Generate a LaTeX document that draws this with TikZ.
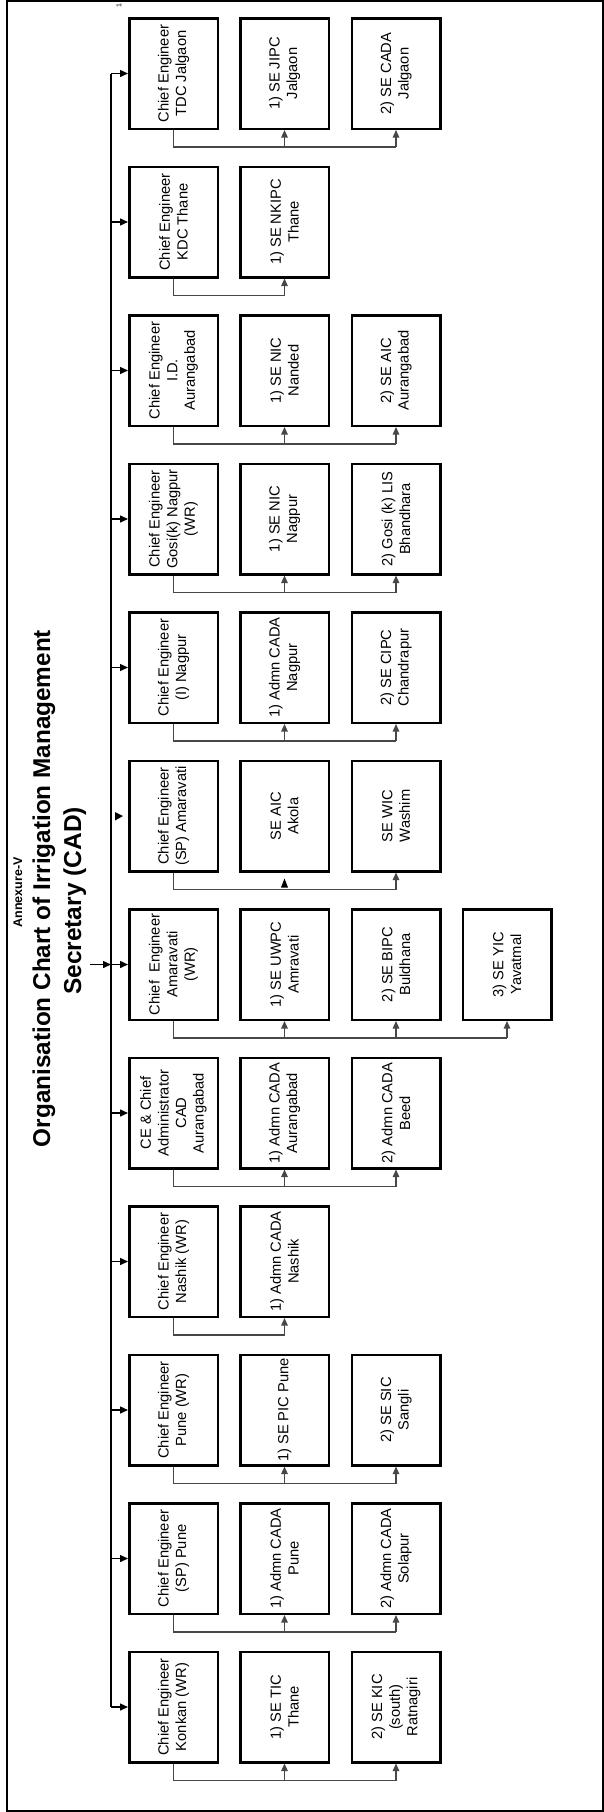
\documentclass[tikz,border=0pt]{standalone}
\usepackage{fontspec}
\setmainfont{Liberation Sans}
\usetikzlibrary{arrows.meta}
\begin{document}
\begin{tikzpicture}[x=1pt,y=-1pt,
  box/.style={draw, line width=2.5pt, rotate=90, minimum width=110.5pt, minimum height=88.5pt,
    inner sep=1pt, align=center, font=\fontsize{14.7}{17.6}\selectfont},
  conn/.style={draw=black!72, line width=1.3pt},
  ctip/.style={conn, -{Triangle[length=7.5pt,width=6.5pt]}},
  sarr/.style={line width=1.4pt, -{Triangle[length=8pt,width=7pt]}},
  ttl/.style={rotate=90, anchor=base, inner sep=0pt}]
\useasboundingbox (0,0) rectangle (604,1812);
\draw[line width=1.6pt] (7,1) rectangle (603.2,1811);
\node[rotate=90, font=\fontsize{7}{8}\selectfont, inner sep=0pt] (pgno) at (119,6) {1};
% title
\node[ttl, font=\bfseries\fontsize{12.5}{14}\selectfont] (annex) at (22,892.5) {Annexure-V};
\node[ttl, font=\bfseries\fontsize{24.3}{28}\selectfont] (title1) at (50,888.5) {Organisation Chart of Irrigation Management};
\node[ttl, font=\bfseries\fontsize{24.5}{28}\selectfont] (title2) at (81,901) {Secretary (CAD)};
\coordinate (spine) at (111,0);
% row 0
\node[box] (c0) at (173.5,73.5) {Chief Engineer\\TDC Jalgaon};
\node[box] (a0) at (284.5,73.5) {1) SE JIPC\\Jalgaon};
\node[box] (b0) at (396,73.5) {2) SE CADA\\Jalgaon};
% row 1
\node[box] (c1) at (173.5,222) {Chief Engineer\\KDC Thane};
\node[box] (a1) at (284.5,222) {1) SE NKIPC\\Thane};
% row 2
\node[box] (c2) at (173.5,370.5) {Chief Engineer\\I.D.\\Aurangabad};
\node[box] (a2) at (284.5,370.5) {1) SE NIC\\Nanded};
\node[box] (b2) at (396,370.5) {2) SE AIC\\Aurangabad};
% row 3
\node[box] (c3) at (173.5,519) {Chief Engineer\\Gosi(k) Nagpur\\(WR)};
\node[box] (a3) at (284.5,519) {1) SE NIC\\Nagpur};
\node[box] (b3) at (396,519) {2) Gosi (k) LIS\\Bhandhara};
% row 4
\node[box] (c4) at (173.5,667.5) {Chief Engineer\\(I) Nagpur};
\node[box] (a4) at (284.5,667.5) {1) Admn CADA\\Nagpur};
\node[box] (b4) at (396,667.5) {2) SE CIPC\\Chandrapur};
% row 5
\node[box] (c5) at (173.5,816) {Chief Engineer\\(SP) Amaravati};
\node[box] (a5) at (284.5,816) {SE AIC\\Akola};
\node[box] (b5) at (396,816) {SE WIC\\Washim};
% row 6
\node[box] (c6) at (173.5,964.5) {Chief\ \ Engineer\\Amaravati\\(WR)};
\node[box] (a6) at (284.5,964.5) {1) SE UWPC\\Amravati};
\node[box] (b6) at (396,964.5) {2) SE BIPC\\Buldhana};
\node[box] (d6) at (507,964.5) {3) SE YIC\\Yavatmal};
% row 7
\node[box] (c7) at (173.5,1113) {CE \& Chief\\Administrator\\CAD\\Aurangabad};
\node[box] (a7) at (284.5,1113) {1) Admn CADA\\Aurangabad};
\node[box] (b7) at (396,1113) {2) Admn CADA\\Beed};
% row 8
\node[box] (c8) at (173.5,1261.5) {Chief Engineer\\Nashik (WR)};
\node[box] (a8) at (284.5,1261.5) {1) Admn CADA\\Nashik};
% row 9
\node[box] (c9) at (173.5,1410) {Chief Engineer\\Pune (WR)};
\node[box] (a9) at (284.5,1410) {1) SE PIC Pune};
\node[box] (b9) at (396,1410) {2) SE SIC\\Sangli};
% row 10
\node[box] (c10) at (173.5,1558.5) {Chief Engineer\\(SP) Pune};
\node[box] (a10) at (284.5,1558.5) {1) Admn CADA\\Pune};
\node[box] (b10) at (396,1558.5) {2) Admn CADA\\Solapur};
% row 11
\node[box] (c11) at (173.5,1707) {Chief Engineer\\Konkan (WR)};
\node[box] (a11) at (284.5,1707) {1) SE TIC\\Thane};
\node[box] (b11) at (396,1707) {2) SE KIC\\(south)\\Ratnagiri};
% spine
\draw[line width=1.8pt] (c0.north -| spine) -- (c11.north -| spine);
\foreach \r in {0,1,2,3,4,6,7,8,9,10,11}{
  \draw[sarr] (c\r.north -| spine) -- (c\r.north);
}
\fill (115,812) -- (123,816) -- (115,820.5) -- cycle;
\draw[sarr] ([xshift=4pt]title2.south |- c6.north) -- (c6.north -| spine);
% connectors with two children
\foreach \r in {0,2,3,4,7,9,10,11}{
  \draw[conn] (c\r.west) -- ++(0,17) coordinate (h\r) -- (h\r -| b\r.west);
  \draw[ctip] (h\r -| a\r.west) -- (a\r.west);
  \draw[ctip] (h\r -| b\r.west) -- (b\r.west);
}
% one child
\foreach \r in {1,8}{
  \draw[conn] (c\r.west) -- ++(0,17) coordinate (h\r) -- (h\r -| a\r.west);
  \draw[ctip] (h\r -| a\r.west) -- (a\r.west);
}
% row 5
\draw[conn] (c5.west) -- ++(0,17) coordinate (h5) -- (h5 -| b5.west);
\draw[ctip] (h5 -| b5.west) -- (b5.west);
\fill (281,887.5) -- (284.5,878.5) -- (288,887.5) -- cycle;
% row 6
\draw[conn] (c6.west) -- ++(0,17) coordinate (h6) -- (h6 -| d6.west);
\draw[ctip] (h6 -| a6.west) -- (a6.west);
\draw[ctip] (h6 -| b6.west) -- (b6.west);
\draw[ctip] (h6 -| d6.west) -- (d6.west);
\end{tikzpicture}
\end{document}
